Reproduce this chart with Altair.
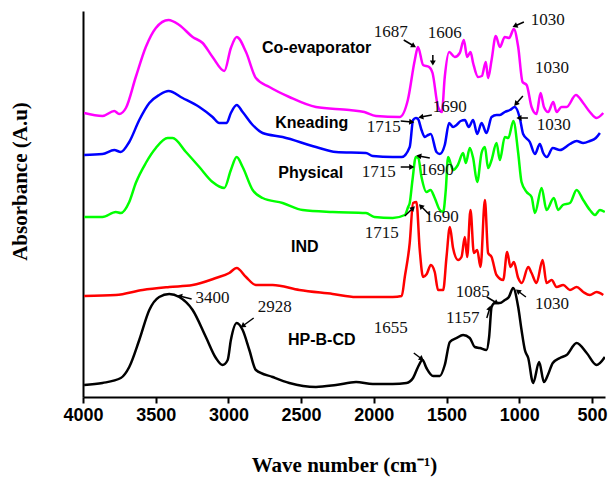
import math
import altair as alt
import pandas as pd

# ---------------- data ----------------
series_names = ["Co-evaporator", "Kneading", "Physical", "IND", "HP-B-CD"]
series_colors = ["#ff00ff", "#0000ff", "#00ff00", "#ff0000", "#000000"]

coev_wn = [3992, 3866, 3785, 3751, 3705, 3637, 3568, 3499, 3412, 3338, 3246, 3177, 3109, 3028,
           2983, 2943, 2879, 2811, 2718, 2581, 2398, 2168, 2065, 1985, 1822, 1766, 1718, 1696,
           1661, 1620, 1596, 1558, 1532, 1512, 1482, 1443, 1409, 1381, 1358, 1335, 1317, 1283,
           1257, 1230, 1214, 1190, 1161, 1133, 1099, 1069, 1037, 1007, 977, 949, 915, 881, 853,
           830, 801, 766, 743, 709, 674, 610, 560, 514, 468, 422]
coev_abs = [2.84, 2.81, 2.86, 2.83, 2.89, 3.20, 3.50, 3.69, 3.77, 3.72, 3.60, 3.54, 3.40, 3.26,
            3.49, 3.60, 3.45, 3.19, 3.10, 3.00, 2.90, 2.87, 2.85, 2.81, 2.80, 2.97, 3.37, 3.50,
            3.32, 3.30, 3.24, 2.90, 2.85, 3.20, 3.45, 3.40, 3.44, 3.57, 3.40, 3.45, 3.34, 3.20,
            3.21, 3.35, 3.19, 3.37, 3.61, 3.50, 3.60, 3.59, 3.68, 3.50, 3.15, 3.12, 2.90, 2.83,
            3.04, 2.90, 2.85, 2.95, 2.85, 2.90, 2.90, 3.02, 2.94, 2.85, 2.79, 2.84]

knead_wn = [3992, 3866, 3785, 3740, 3682, 3613, 3544, 3476, 3412, 3315, 3200, 3109, 3063, 3012,
            2983, 2943, 2902, 2833, 2765, 2627, 2398, 2260, 2054, 2007, 1870, 1808, 1753, 1730,
            1711, 1696, 1672, 1649, 1627, 1608, 1569, 1546, 1512, 1482, 1455, 1431, 1402, 1374,
            1347, 1317, 1289, 1259, 1225, 1190, 1156, 1133, 1099, 1064, 1030, 996, 973, 927, 892,
            858, 835, 810, 769, 720, 651, 605, 560, 514, 473, 445]
knead_abs = [2.42, 2.43, 2.47, 2.45, 2.55, 2.77, 2.94, 3.02, 3.06, 2.99, 2.90, 2.80, 2.74, 2.74,
             2.84, 2.92, 2.85, 2.72, 2.64, 2.60, 2.50, 2.45, 2.44, 2.41, 2.40, 2.40, 2.50, 2.77,
             2.79, 2.78, 2.67, 2.60, 2.62, 2.63, 2.45, 2.43, 2.52, 2.74, 2.70, 2.72, 2.76, 2.77,
             2.70, 2.77, 2.63, 2.74, 2.64, 2.80, 2.82, 2.82, 2.85, 2.87, 2.90, 2.79, 2.63, 2.55,
             2.43, 2.53, 2.44, 2.40, 2.49, 2.47, 2.53, 2.56, 2.54, 2.56, 2.59, 2.64]

phys_wn = [3992, 3866, 3774, 3740, 3682, 3637, 3568, 3499, 3418, 3384, 3292, 3200, 3109, 3028,
           2983, 2943, 2902, 2833, 2765, 2627, 2489, 2283, 2054, 1996, 1870, 1787, 1764, 1753,
           1734, 1711, 1694, 1672, 1638, 1610, 1581, 1546, 1523, 1505, 1489, 1455, 1422, 1386,
           1367, 1340, 1317, 1289, 1259, 1236, 1214, 1190, 1156, 1133, 1099, 1075, 1040, 1007,
           984, 949, 915, 892, 846, 812, 762, 732, 700, 651, 605, 560, 514, 479, 445, 411]
phys_abs = [1.80, 1.80, 1.85, 1.84, 1.95, 2.14, 2.34, 2.49, 2.59, 2.59, 2.45, 2.30, 2.15, 2.09,
            2.27, 2.40, 2.30, 2.07, 1.99, 1.94, 1.87, 1.85, 1.84, 1.80, 1.79, 1.82, 1.90, 1.94,
            2.17, 2.40, 2.39, 2.20, 2.05, 2.07, 1.99, 1.87, 1.85, 2.07, 2.40, 2.27, 2.32, 2.44,
            2.34, 2.49, 2.39, 2.15, 2.44, 2.50, 2.29, 2.37, 2.54, 2.37, 2.60, 2.59, 2.76, 2.44,
            2.15, 2.05, 2.00, 1.84, 2.09, 1.87, 1.99, 1.87, 1.92, 1.94, 2.07, 1.97, 1.87, 1.82,
            1.87, 1.85]

ind_wn = [3992, 3774, 3590, 3407, 3246, 3086, 2994, 2943, 2879, 2811, 2696, 2512, 2283, 2122,
          1870, 1808, 1787, 1753, 1730, 1707, 1684, 1661, 1636, 1608, 1581, 1558, 1523, 1500,
          1477, 1455, 1420, 1397, 1374, 1358, 1335, 1312, 1289, 1266, 1236, 1214, 1190, 1156,
          1110, 1083, 1060, 1037, 1007, 982, 938, 915, 881, 839, 812, 777, 743, 697, 651, 605,
          560, 514, 468, 422]
ind_abs = [1.01, 1.02, 1.07, 1.10, 1.12, 1.19, 1.24, 1.29, 1.20, 1.12, 1.12, 1.07, 1.03, 1.00,
           1.00, 1.01, 1.20, 1.54, 1.94, 1.95, 1.47, 1.20, 1.23, 1.32, 1.25, 1.07, 1.07, 1.40,
           1.70, 1.49, 1.37, 1.40, 1.60, 1.40, 1.87, 1.44, 1.47, 1.30, 1.97, 1.44, 1.40, 1.22,
           1.17, 1.45, 1.30, 1.35, 1.19, 1.14, 1.30, 1.24, 1.14, 1.37, 1.14, 1.17, 1.10, 1.12,
           1.07, 1.10, 1.05, 1.02, 1.05, 1.02]

hpbcd_wn = [3992, 3866, 3740, 3682, 3613, 3544, 3476, 3407, 3338, 3246, 3155, 3086, 3040, 3005,
            2983, 2943, 2902, 2856, 2811, 2696, 2581, 2398, 2260, 2122, 2007, 1870, 1775, 1730,
            1696, 1665, 1638, 1592, 1546, 1512, 1477, 1431, 1386, 1340, 1305, 1271, 1225, 1207,
            1190, 1168, 1133, 1099, 1071, 1042, 1007, 984, 961, 938, 904, 863, 830, 803, 769,
            720, 674, 605, 536, 468, 411]
hpbcd_abs = [0.12, 0.14, 0.19, 0.30, 0.57, 0.87, 1.00, 1.03, 1.00, 0.87, 0.60, 0.39, 0.32, 0.37,
             0.57, 0.74, 0.67, 0.47, 0.27, 0.20, 0.14, 0.10, 0.12, 0.15, 0.13, 0.13, 0.14, 0.19,
             0.30, 0.37, 0.29, 0.21, 0.21, 0.32, 0.55, 0.59, 0.62, 0.59, 0.50, 0.49, 0.47, 0.60,
             0.90, 0.94, 0.94, 0.97, 1.00, 1.09, 0.90, 0.67, 0.47, 0.39, 0.14, 0.35, 0.15, 0.22,
             0.34, 0.39, 0.42, 0.54, 0.44, 0.32, 0.40]

# series name labels
name_text = ["Co-evaporator", "Kneading", "Physical", "IND", "HP-B-CD"]
name_wn = [2393, 2427, 2434, 2475, 2358]
name_abs = [3.49, 2.74, 2.24, 1.50, 0.57]

# peak labels
peak_text = ["1687", "1606", "1030", "1030", "1690", "1715", "1030", "1715", "1690",
             "1715", "1690", "3400", "2928", "1655", "1157", "1085", "1030"]
peak_wn = [1883, 1512, 803, 775, 1477, 1932, 762, 1966, 1567, 1945, 1532, 3109, 2682, 1883,
           1388, 1319, 775]
peak_abs = [3.65, 3.64, 3.77, 3.29, 2.90, 2.70, 2.72, 2.25, 2.27, 1.64, 1.80, 0.99, 0.90, 0.69,
            0.79, 1.05, 0.93]

# arrows (tail -> head)
arrow_tail_wn = [1794, 1594, 968, 1601, 1815, 975, 940, 1815, 1615, 1787, 1615, 3253, 2826,
                 1725, 1223, 1223, 954]
arrow_tail_abs = [3.57, 3.42, 3.75, 2.82, 2.76, 3.01, 2.79, 2.30, 2.39, 1.81, 1.82, 0.98, 0.79,
                  0.44, 0.79, 1.00, 1.00]
arrow_head_wn = [1725, 1594, 1030, 1677, 1739, 1023, 1002, 1739, 1691, 1730, 1677, 3336, 2902,
                 1670, 1202, 1154, 1009]
arrow_head_abs = [3.51, 3.34, 3.71, 2.80, 2.75, 2.93, 2.79, 2.30, 2.41, 1.89, 1.91, 1.01, 0.71,
                  0.38, 0.89, 0.94, 1.06]

x_ticks = [4000, 3750, 3500, 3250, 3000, 2750, 2500, 2250, 2000, 1750, 1500, 1250, 1000, 750, 500]

# ---------------- layout ----------------
X_DOMAIN = [410, 4000]
Y_DOMAIN = [0, 3.86]
W, H = 522, 386

rows = []
for name, wn, ab in zip(series_names,
                        [coev_wn, knead_wn, phys_wn, ind_wn, hpbcd_wn],
                        [coev_abs, knead_abs, phys_abs, ind_abs, hpbcd_abs]):
    for i, (w, a) in enumerate(zip(wn, ab)):
        rows.append({"series": name, "wn": w, "abs": a, "order": i})
df = pd.DataFrame(rows)

x_scale = alt.Scale(domain=X_DOMAIN, reverse=True, nice=False, zero=False)
y_scale = alt.Scale(domain=Y_DOMAIN, nice=False, zero=False)

x_axis = alt.Axis(
    values=x_ticks, format="d",
    labelExpr="datum.value % 500 === 0 ? datum.label : ''",
    grid=False, domainColor="black", domainWidth=2, tickColor="black", tickWidth=2,
    tickSize=6, labelFont="Liberation Sans", labelFontWeight="bold", labelFontSize=18,
    labelColor="black", labelPadding=3, labelFlush=False, labelOverlap=False,
    titleFont="Liberation Serif", titleFontSize=21, titleFontWeight="bold",
    titleColor="black", titlePadding=30,
)
y_axis = alt.Axis(
    ticks=False, labels=False, grid=False, domainColor="black", domainWidth=2,
    titleFont="Liberation Serif", titleFontSize=21, titleFontWeight="bold",
    titleColor="black", titleAngle=270, titleAlign="center", titleBaseline="middle",
    titleX=-63, titleY=170,
)

lines = alt.Chart(df).mark_line(
    strokeWidth=2.5, strokeJoin="round", clip=True, interpolate="monotone",
).encode(
    x=alt.X("wn:Q", scale=x_scale, axis=x_axis, title="Wave number (cm⁻¹)"),
    y=alt.Y("abs:Q", scale=y_scale, axis=y_axis, title="Absorbance (A.u)"),
    color=alt.Color("series:N", scale=alt.Scale(domain=series_names, range=series_colors),
                    legend=None),
    detail="series:N",
    order="order:Q",
)

names_df = pd.DataFrame({"t": name_text, "wn": name_wn, "abs": name_abs})
names = alt.Chart(names_df).mark_text(
    font="Liberation Sans", fontWeight="bold", fontSize=16, color="black",
    align="center", baseline="middle",
).encode(x=alt.X("wn:Q", scale=x_scale), y=alt.Y("abs:Q", scale=y_scale), text="t:N")

peaks_df = pd.DataFrame({"t": peak_text, "wn": peak_wn, "abs": peak_abs})
peaks = alt.Chart(peaks_df).mark_text(
    font="Liberation Serif", fontSize=17, color="#111111",
    align="center", baseline="middle",
).encode(x=alt.X("wn:Q", scale=x_scale), y=alt.Y("abs:Q", scale=y_scale), text="t:N")


def to_px(w, a):
    px = (X_DOMAIN[1] - w) / (X_DOMAIN[1] - X_DOMAIN[0]) * W
    py = (Y_DOMAIN[1] - a) / (Y_DOMAIN[1] - Y_DOMAIN[0]) * H
    return px, py


angles = []
for tw, ta, hw, ha in zip(arrow_tail_wn, arrow_tail_abs, arrow_head_wn, arrow_head_abs):
    tx, ty = to_px(tw, ta)
    hx, hy = to_px(hw, ha)
    ang = math.degrees(math.atan2(hx - tx, -(hy - ty))) % 360
    angles.append(ang)

arrows_df = pd.DataFrame({
    "tw": arrow_tail_wn, "ta": arrow_tail_abs,
    "hw": arrow_head_wn, "ha": arrow_head_abs, "ang": angles,
})
shafts = alt.Chart(arrows_df).mark_rule(color="black", strokeWidth=1.5).encode(
    x=alt.X("tw:Q", scale=x_scale), y=alt.Y("ta:Q", scale=y_scale),
    x2="hw:Q", y2="ha:Q",
)
heads = alt.Chart(arrows_df).mark_point(
    shape="triangle-up", filled=True, color="black", opacity=1, size=35,
).encode(
    x=alt.X("hw:Q", scale=x_scale), y=alt.Y("ha:Q", scale=y_scale),
    angle=alt.Angle("ang:Q", scale=None),
)

chart = alt.layer(lines, names, peaks, shafts, heads).properties(
    width=W, height=H,
    autosize=alt.AutoSizeParams(type="none"),
    padding={"left": 83, "top": 11, "right": 4, "bottom": 82},
    background="white",
).configure_view(stroke=None)

chart.save("out.html", embed_options={"renderer": "svg", "actions": False})
